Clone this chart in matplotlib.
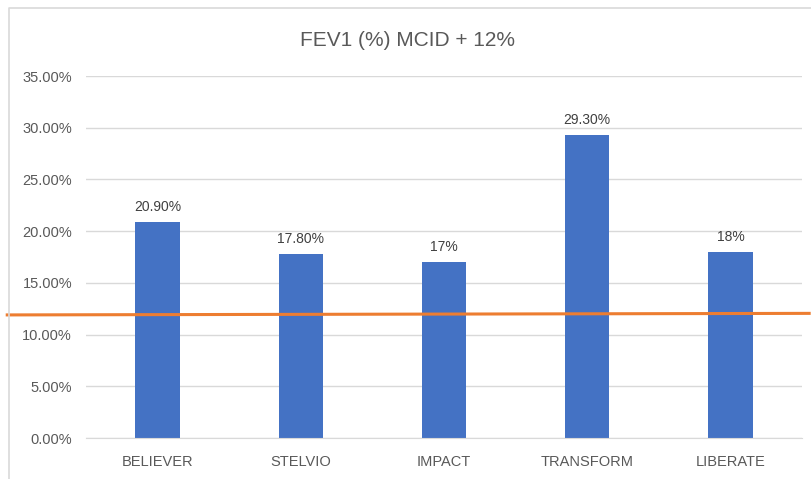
import matplotlib.pyplot as plt
from matplotlib.lines import Line2D

plt.rcParams['font.family'] = ['Liberation Sans', 'DejaVu Sans']

studies = ["BELIEVER", "STELVIO", "IMPACT", "TRANSFORM", "LIBERATE"]
fev1 = [20.9, 17.8, 17.0, 29.3, 18.0]
labels = ["20.90%", "17.80%", "17%", "29.30%", "18%"]
mcid = 12

fig = plt.figure(figsize=(8.11, 4.79), dpi=100)
ax = fig.add_axes([86 / 811, 1 - 438 / 479, 716 / 811, 362 / 479])

# chart border (only left and top are inside the picture)
fig.lines.append(Line2D([8.5 / 811, 8.5 / 811, 1.0], [0.0, 1 - 7.5 / 479, 1 - 7.5 / 479],
                        transform=fig.transFigure, color='#d9d9d9', linewidth=1.2))

x = range(len(studies))
bars = ax.bar(x, fev1, width=0.31, color='#4472c4', zorder=2)
for b, lab in zip(bars, labels):
    ax.text(b.get_x() + b.get_width() / 2, b.get_height() + 0.8, lab,
            ha='center', va='bottom', fontsize=10, color='#404040')

ax.set_xlim(-0.5, 4.5)
ax.set_ylim(0, 35)
ax.set_yticks(range(0, 36, 5))
ax.set_yticklabels([f"{v:.2f}%" for v in range(0, 36, 5)])
ax.set_xticks(list(x))
ax.set_xticklabels(studies)
ax.grid(axis='y', color='#d9d9d9', linewidth=1, zorder=0)
for s in ['top', 'right', 'left']:
    ax.spines[s].set_visible(False)
ax.spines['bottom'].set_color('#d9d9d9')
ax.tick_params(length=0, labelsize=10.5, colors='#595959', pad=10)
ax.tick_params(axis='x', pad=12)

# MCID line across the whole chart
ax.plot([-1.05, 4.55], [mcid - 0.1, mcid + 0.05], color='#ed7d31', linewidth=2.2,
        clip_on=False, zorder=3)

fig.text(0.503, 1 - 40 / 479, "FEV1 (%) MCID + 12%", ha='center', va='center',
         fontsize=15, color='#595959')

fig.savefig("out.png", dpi=100)
